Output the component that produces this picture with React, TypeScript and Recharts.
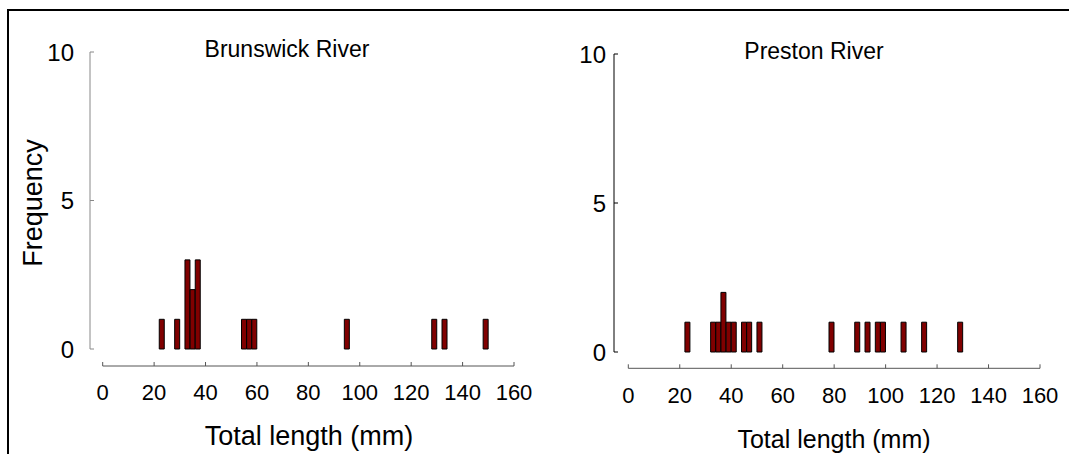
import { BarChart, Bar, XAxis, YAxis } from "recharts"

const lengthTicks = [0, 20, 40, 60, 80, 100, 120, 140, 160]
const frequencyTicks = [0, 5, 10]
const binWidth = 2
const maxLength = 160

// bin start (mm) and number of fish in that 2 mm bin
const brunswickBinStarts = [22, 28, 32, 34, 36, 54, 56, 58, 94, 128, 132, 148]
const brunswickCounts = [1, 1, 3, 2, 3, 1, 1, 1, 1, 1, 1, 1]

const prestonBinStarts = [22, 32, 34, 36, 38, 40, 44, 46, 50, 78, 88, 92, 96, 98, 106, 114, 128]
const prestonCounts = [1, 1, 1, 2, 1, 1, 1, 1, 1, 1, 1, 1, 1, 1, 1, 1, 1]

const FONT = '"Liberation Sans", Arial, sans-serif'
const CHART_HEIGHT = 454

function buildBins(starts: number[], counts: number[]) {
  const rows: { mid: number; count: number }[] = []
  for (let start = 0; start < maxLength; start += binWidth) {
    const i = starts.indexOf(start)
    rows.push({ mid: start + binWidth / 2, count: i >= 0 ? counts[i] : 0 })
  }
  return rows
}

type PanelProps = {
  data: { mid: number; count: number }[]
  left: number
  width: number
  top: number
  right: number
  plotBottom: number
  yAxisWidth: number
  yGap: number
  xGap: number
  yLabelGap: number
  xLabelDy: number
  yStroke: string
}

function Panel({
  data,
  left,
  width,
  top,
  right,
  plotBottom,
  yAxisWidth,
  yGap,
  xGap,
  yLabelGap,
  xLabelDy,
  yStroke
}: PanelProps) {
  const xAxisHeight = CHART_HEIGHT - plotBottom - xGap

  const renderYTick = (props: any) => {
    const { x, y, payload } = props
    return (
      <g>
        <line x1={x} y1={y} x2={x + 4} y2={y} stroke={yStroke} />
        <text
          x={x - yLabelGap}
          y={y}
          textAnchor="end"
          dominantBaseline="central"
          fontSize={24}
          fontFamily={FONT}
          fill="#000"
        >
          {payload.value}
        </text>
      </g>
    )
  }

  const renderXTick = (props: any) => {
    const { x, y, payload } = props
    return (
      <g>
        <line x1={x} y1={y} x2={x} y2={y - 4} stroke="#555" />
        <text
          x={x}
          y={y + xLabelDy}
          textAnchor="middle"
          fontSize={22}
          fontFamily={FONT}
          fill="#000"
        >
          {payload.value}
        </text>
      </g>
    )
  }

  return (
    <div style={{ position: "absolute", left, top: 0 }}>
      <BarChart
        width={width}
        height={CHART_HEIGHT}
        data={data}
        margin={{ top, right, bottom: 0, left: 0 }}
        barCategoryGap={0}
        barGap={0}
      >
        <XAxis
          xAxisId="xb"
          dataKey="mid"
          type="number"
          domain={[0, maxLength]}
          ticks={lengthTicks}
          interval={0}
          height={xAxisHeight}
          tickSize={0}
          tickMargin={0}
          tickLine={false}
          tick={renderXTick}
          axisLine={{ stroke: "#555" }}
        />
        <XAxis
          xAxisId="xa"
          type="number"
          domain={[0, 1]}
          height={xGap}
          tick={false}
          tickLine={false}
          axisLine={false}
        />
        <YAxis
          yAxisId="yb"
          type="number"
          domain={[0, 10]}
          ticks={frequencyTicks}
          interval={0}
          width={yAxisWidth}
          tickSize={0}
          tickMargin={0}
          tickLine={false}
          tick={renderYTick}
          axisLine={{ stroke: yStroke }}
        />
        <YAxis
          yAxisId="ya"
          type="number"
          domain={[0, 1]}
          width={yGap}
          tick={false}
          tickLine={false}
          axisLine={false}
        />
        <Bar
          xAxisId="xb"
          yAxisId="yb"
          dataKey="count"
          fill="#800000"
          stroke="#000"
          strokeWidth={1}
          isAnimationActive={false}
        />
      </BarChart>
    </div>
  )
}

export default function App() {
  const brunswick = buildBins(brunswickBinStarts, brunswickCounts)
  const preston = buildBins(prestonBinStarts, prestonCounts)

  return (
    <div
      style={{
        position: "absolute",
        left: 0,
        top: 0,
        width: 1069,
        height: 454,
        overflow: "hidden",
        background: "#fff",
        fontFamily: FONT
      }}
    >
      <div
        style={{
          position: "absolute",
          left: 7,
          top: 9,
          width: 1069 - 7,
          height: 454 - 9,
          borderTop: "2px solid #000",
          borderLeft: "2px solid #000",
          boxSizing: "border-box"
        }}
      />

      <Panel
        data={brunswick}
        left={0}
        width={540}
        top={52}
        right={26}
        plotBottom={349}
        yAxisWidth={90}
        yGap={12.7}
        xGap={17}
        yLabelGap={16}
        xLabelDy={34}
        yStroke="#888"
      />

      <Panel
        data={preston}
        left={540}
        width={529}
        top={54}
        right={29}
        plotBottom={352}
        yAxisWidth={74}
        yGap={14.3}
        xGap={16.3}
        yLabelGap={8}
        xLabelDy={35}
        yStroke="#000"
      />

      <svg
        width={1069}
        height={454}
        style={{ position: "absolute", left: 0, top: 0, pointerEvents: "none" }}
      >
        <text x={287} y={57} textAnchor="middle" fontSize={23} fontFamily={FONT} fill="#000">
          Brunswick River
        </text>
        <text x={814} y={59} textAnchor="middle" fontSize={23} fontFamily={FONT} fill="#000">
          Preston River
        </text>
        <text
          x={33}
          y={203}
          transform="rotate(-90 33 203)"
          textAnchor="middle"
          dominantBaseline="central"
          fontSize={27}
          fontFamily={FONT}
          fill="#000"
        >
          Frequency
        </text>
        <text x={309} y={445} textAnchor="middle" fontSize={27} fontFamily={FONT} fill="#000">
          Total length (mm)
        </text>
        <text x={834} y={448} textAnchor="middle" fontSize={25} fontFamily={FONT} fill="#000">
          Total length (mm)
        </text>
      </svg>
    </div>
  )
}
